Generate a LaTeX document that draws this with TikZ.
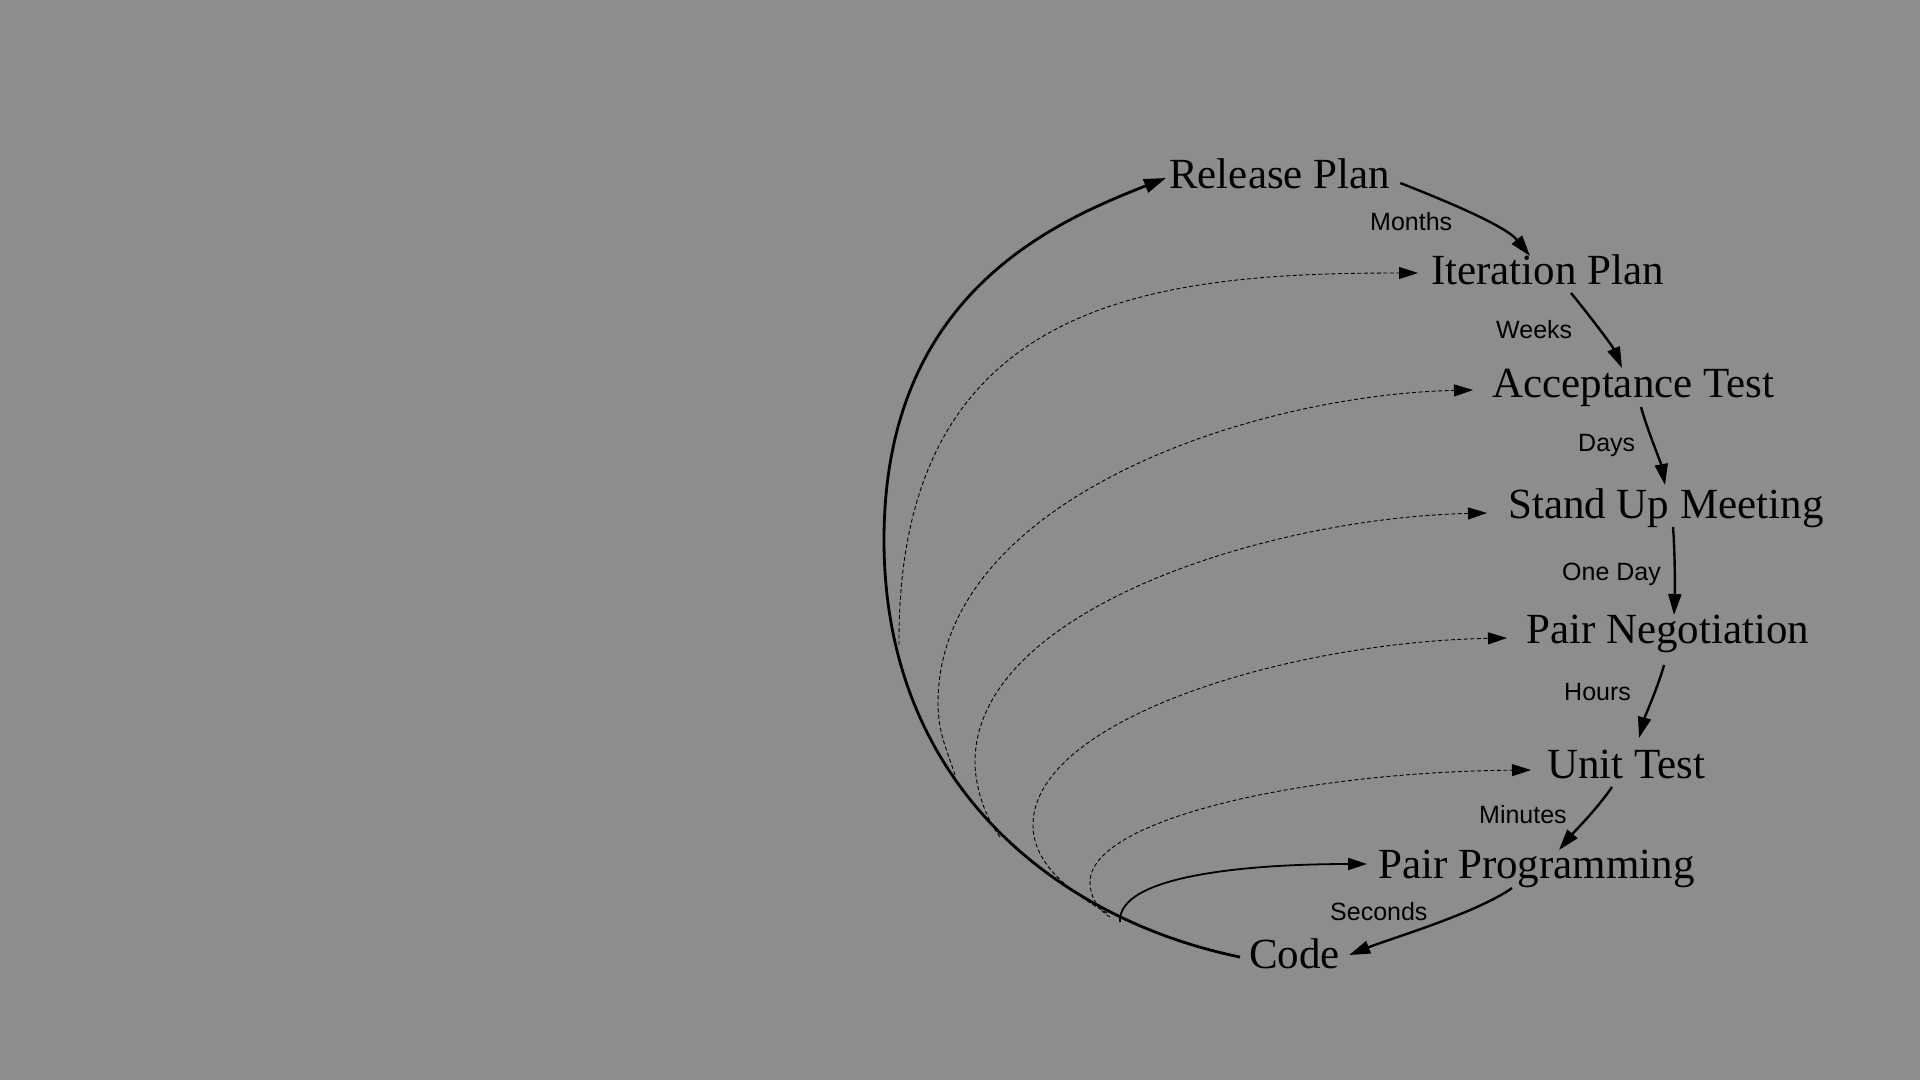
\documentclass[tikz,border=0pt]{standalone}
\usepackage{fontspec}
\setmainfont{Liberation Serif}
\newfontfamily\lblfont{Liberation Sans}
\usetikzlibrary{arrows.meta}
\definecolor{bggray}{HTML}{8C8E8C}
\tikzset{
  stage/.style={font=\fontsize{43}{50}\selectfont, inner sep=0pt, anchor=base west, text=black},
  lbl/.style={font=\lblfont\fontsize{25}{30}\selectfont, inner sep=0pt, anchor=base west, text=black},
  fwd/.style={line width=2.4pt, -{Triangle[length=21pt,width=13pt]}},
  bigloop/.style={line width=2.8pt, -{Triangle[length=22pt,width=14pt]}},
  fbloop/.style={line width=0.9pt, dash pattern=on 4pt off 2.5pt, -{Triangle[length=19pt,width=12pt]}},
  tightloop/.style={line width=1.8pt, -{Triangle[length=19pt,width=12pt]}},
}
\begin{document}
\begin{tikzpicture}[x=1pt,y=-1pt]
\fill[bggray] (0,0) rectangle (1920,1080);
\useasboundingbox (0,0) rectangle (1920,1080);

% stages
\node[stage] (rel)  at (1169,188) {Release Plan};
\node[stage] (ite)  at (1431,284) {Iteration Plan};
\node[stage] (acc)  at (1492,397) {Acceptance Test};
\node[stage] (sum)  at (1508,518) {Stand Up Meeting};
\node[stage] (neg)  at (1526,643) {Pair Negotiation};
\node[stage] (ut)   at (1547,778) {Unit Test};
\node[stage] (pp)   at (1378,878) {Pair Programming};
\node[stage] (code) at (1249,968) {Code};

% labels
\node[lbl] (lmonths)  at (1370,230) {Months};
\node[lbl] (lweeks)   at (1496,338) {Weeks};
\node[lbl] (ldays)    at (1578,451) {Days};
\node[lbl] (loneday)  at (1562,580) {One Day};
\node[lbl] (lhours)   at (1564,700) {Hours};
\node[lbl] (lminutes) at (1479,823) {Minutes};
\node[lbl] (lseconds) at (1330,920) {Seconds};

% forward arrows
\draw[fwd] ([shift={(10,-5)}]rel.base east) .. controls +(38,15) and +(-25,-31) .. ([shift={(99,-28)}]ite.base west);
\draw[fwd] ([shift={(140,9)}]ite.base west) .. controls +(14,17) and +(-10,-23) .. ([shift={(130,-29)}]acc.base west);
\draw[fwd] ([shift={(149,10)}]acc.base west) .. controls +(6,22) and +(-4,-22) .. ([shift={(157,-33)}]sum.base west);
\draw[fwd] ([shift={(165,9)}]sum.base west) .. controls +(2,25) and +(1,-25) .. ([shift={(148,-28)}]neg.base west);
\draw[fwd] ([shift={(138,22)}]neg.base west) .. controls +(-6,22) and +(6,-22) .. ([shift={(92,-40)}]ut.base west);
\draw[fwd] ([shift={(65,9)}]ut.base west) .. controls +(-15,22) and +(15,-18) .. ([shift={(181,-28)}]pp.base west);
\draw[fwd] ([shift={(134,10)}]pp.base west) .. controls +(-35,25) and +(40,-16) .. ([shift={(9,-13)}]code.base east);

% feedback loops back from code
\coordinate (m1) at (899,645);
\coordinate (m2) at (955,775);
\coordinate (m3) at (1000,837);
\coordinate (m4) at (1107,913);
\coordinate (m5) at (1110,917);
\coordinate (m6) at (1120,922);

\draw[fbloop] (m1) .. controls (897,300) and +(-268,0) .. ([shift={(-13,-11)}]ite.base west);
\draw[fbloop] (m2) .. controls (947,750) and (938,733) .. (938,703)
  .. controls (938,500) and +(-223,5) .. ([shift={(-19,-7)}]acc.base west);
\draw[fbloop] (m3) .. controls (985,817) and (975,787) .. (975,762)
  .. controls (975,610) and +(-220,5) .. ([shift={(-21,-5)}]sum.base west);
\draw[fbloop] (m4) .. controls (1072,893) and (1033,865) .. (1033,825)
  .. controls (1033,720) and +(-220,4) .. ([shift={(-19,-5)}]neg.base west);
\draw[fbloop] (m5) .. controls (1098,910) and (1090,897) .. (1090,882)
  .. controls (1090,820) and +(-231,2) .. ([shift={(-16,-8)}]ut.base west);
\draw[tightloop] (m6) .. controls (1117,875) and +(-117,0) .. ([shift={(-11,-14)}]pp.base west);

\draw[bigloop] ([shift={(-9,-11)}]code.base west) .. controls +(-176,-36) and (884,790) .. (884,540)
  .. controls (884,300) and +(-121,47) .. ([shift={(-3,-10)}]rel.base west);
\end{tikzpicture}
\end{document}
